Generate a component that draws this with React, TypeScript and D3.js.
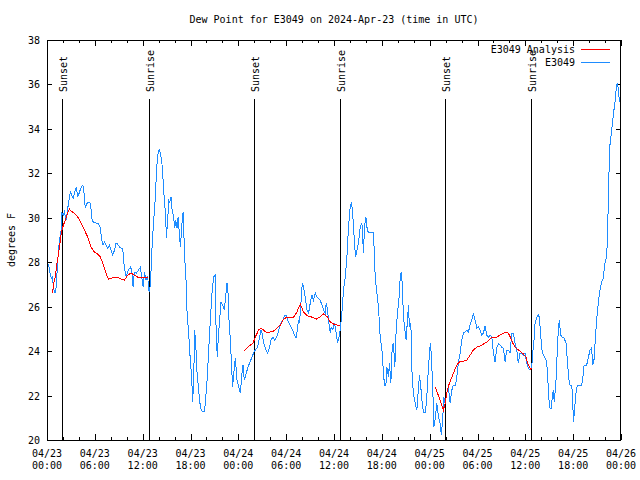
import React from "react";
import * as d3 from "d3";

// time is hours since 2024-04-23 00:00 UTC
const xTickLabels: [string, string][] = [
  ["04/23", "00:00"], ["04/23", "06:00"], ["04/23", "12:00"], ["04/23", "18:00"],
  ["04/24", "00:00"], ["04/24", "06:00"], ["04/24", "12:00"], ["04/24", "18:00"],
  ["04/25", "00:00"], ["04/25", "06:00"], ["04/25", "12:00"], ["04/25", "18:00"],
  ["04/26", "00:00"],
];
const yTicks = [20, 22, 24, 26, 28, 30, 32, 34, 36, 38];

const sunEvents: { label: string; hour: number }[] = [
  { label: "Sunset", hour: 1.86 },
  { label: "Sunrise", hour: 12.76 },
  { label: "Sunset", hour: 25.96 },
  { label: "Sunrise", hour: 36.69 },
  { label: "Sunset", hour: 49.98 },
  { label: "Sunrise", hour: 60.75 },
];

const station: [number, number][] = [
  [0.19,27.91],[0.31,27.64],[0.53,27.28],[0.69,27.33],[0.81,26.83],[1.03,26.61],[1.15,26.88],[1.28,27.64],
  [1.44,28.54],[1.57,28.99],[1.78,29.44],[1.85,30.21],[2.07,30.12],[2.19,30.25],[2.41,29.89],[2.53,30.21],
  [2.69,30.66],[2.82,30.93],[2.94,31.15],[3.11,31.02],[3.28,30.88],[3.45,31.11],[3.66,31.38],[3.86,30.93],
  [4.07,31.15],[4.29,31.38],[4.49,31.47],[4.61,31.24],[4.79,30.48],[5.04,30.66],[5.24,30.70],[5.45,30.66],
  [5.66,29.89],[5.86,29.80],[6.17,29.76],[6.45,29.76],[6.70,29.53],[6.87,28.99],[7.04,28.77],[7.21,28.90],
  [7.42,28.77],[7.62,28.63],[7.83,28.77],[8.05,28.54],[8.25,28.32],[8.46,28.54],[8.67,28.86],[8.87,28.81],
  [9.09,28.68],[9.50,28.59],[9.71,27.73],[9.92,27.37],[10.21,27.64],[10.46,27.78],[10.63,27.64],[10.80,26.88],
  [10.96,27.55],[11.22,27.51],[11.47,27.64],[11.72,27.78],[11.88,27.33],[12.06,26.88],[12.22,27.55],[12.43,27.19],
  [12.63,27.33],[12.81,26.65],[12.97,26.97],[13.18,28.68],[13.38,29.89],[13.60,30.93],[13.72,32.01],[13.88,32.81],
  [14.06,33.08],[14.22,32.90],[14.39,32.59],[14.56,31.69],[14.72,30.79],[14.89,30.03],[14.97,29.08],[15.14,29.89],
  [15.26,30.79],[15.39,30.70],[15.56,30.93],[15.69,30.34],[15.89,30.03],[16.02,29.53],[16.14,29.89],[16.32,29.53],
  [16.44,30.03],[16.60,29.31],[16.73,28.68],[16.82,29.13],[16.94,29.80],[17.07,30.25],[17.14,29.58],[17.27,28.23],
  [17.44,27.19],[17.57,25.71],[17.77,24.81],[17.89,24.05],[18.07,23.15],[18.20,22.38],[18.27,21.71],[18.40,22.70],
  [18.52,24.95],[18.65,24.36],[18.82,23.01],[19.02,22.25],[19.24,21.48],[19.45,21.30],[19.74,21.30],[19.86,21.66],
  [20.08,22.70],[20.28,24.05],[20.49,25.40],[20.70,26.61],[20.90,27.33],[21.08,27.42],[21.15,25.98],[21.24,24.50],
  [21.37,23.73],[21.49,24.63],[21.65,25.40],[21.83,26.21],[22.03,26.07],[22.24,25.85],[22.41,26.43],[22.58,27.06],
  [22.71,26.61],[22.83,25.40],[23.00,24.50],[23.12,23.60],[23.28,22.38],[23.50,23.28],[23.62,23.69],[23.83,22.70],
  [24.04,22.38],[24.25,22.11],[24.46,23.01],[24.59,23.37],[24.75,22.70],[25.00,23.01],[25.21,23.28],[25.41,23.46],
  [25.71,23.73],[25.91,23.91],[26.13,24.05],[26.42,24.18],[26.67,24.63],[26.84,24.95],[26.97,24.81],[27.17,24.36],
  [27.38,24.14],[27.67,23.91],[27.92,24.18],[28.10,24.50],[28.35,24.63],[28.55,24.50],[28.76,24.59],[28.97,24.81],
  [29.17,25.08],[29.35,25.26],[29.60,25.40],[29.76,25.58],[29.97,25.62],[30.18,25.40],[30.35,25.26],[30.60,25.08],
  [30.80,24.95],[31.02,24.72],[31.23,24.59],[31.35,24.81],[31.55,25.40],[31.68,25.26],[31.85,26.16],[32.02,27.06],
  [32.18,26.88],[32.39,26.43],[32.61,25.85],[32.81,25.71],[33.02,26.16],[33.23,26.52],[33.43,26.29],[33.65,26.61],
  [33.86,26.43],[34.06,26.38],[34.27,26.29],[34.49,26.07],[34.69,25.85],[34.90,25.71],[35.03,26.16],[35.19,25.85],
  [35.36,25.26],[35.53,24.81],[35.65,25.08],[35.86,24.95],[36.07,25.26],[36.28,24.81],[36.44,24.36],[36.62,24.63],
  [36.78,24.95],[36.99,25.71],[37.19,26.74],[37.41,27.33],[37.62,28.23],[37.82,29.58],[38.03,30.48],[38.20,30.70],
  [38.37,30.03],[38.53,29.13],[38.70,28.23],[38.87,28.54],[39.07,28.86],[39.29,29.58],[39.50,29.76],[39.70,28.41],
  [39.82,29.58],[40.00,30.03],[40.13,29.58],[40.29,29.35],[40.95,29.35],[41.17,27.33],[41.38,26.61],[41.58,25.98],
  [41.79,24.63],[42.01,24.05],[42.21,23.01],[42.33,22.47],[42.51,22.47],[42.63,23.28],[42.83,22.83],[42.96,23.46],
  [43.13,22.56],[43.30,24.18],[43.46,24.36],[43.63,23.28],[43.80,24.95],[43.96,25.71],[44.14,26.29],[44.30,27.28],
  [44.42,27.55],[44.55,27.10],[44.71,25.53],[44.89,24.95],[45.05,24.50],[45.21,25.40],[45.34,26.07],[45.46,25.08],
  [45.64,25.26],[45.80,22.83],[45.96,22.11],[46.18,21.66],[46.39,21.35],[46.55,22.11],[46.72,22.92],[46.89,22.38],
  [47.06,21.66],[47.22,21.26],[47.47,21.26],[47.64,21.93],[47.81,23.01],[47.97,23.91],[48.10,24.36],[48.22,23.73],
  [48.40,22.25],[48.52,20.58],[48.68,20.90],[48.90,21.66],[49.10,21.03],[49.31,20.76],[49.47,20.22],[49.65,21.03],
  [49.77,21.93],[49.94,21.66],[50.15,22.11],[50.35,22.38],[50.56,21.66],[50.78,22.25],[50.98,22.47],[51.23,22.47],
  [51.40,22.83],[51.60,23.46],[51.82,23.91],[52.03,24.50],[52.23,24.81],[52.44,24.86],[52.66,24.95],[52.86,24.86],
  [53.07,25.17],[53.28,25.40],[53.48,25.71],[53.70,25.40],[53.91,25.04],[54.11,25.08],[54.32,24.95],[54.54,24.72],
  [54.74,24.81],[54.95,25.13],[55.16,24.72],[55.36,24.63],[55.58,24.72],[55.79,24.63],[55.99,23.96],[56.20,23.51],
  [56.42,24.18],[56.62,24.32],[56.83,24.27],[57.04,24.18],[57.24,24.14],[57.46,23.51],[57.67,24.05],[57.87,24.05],
  [58.08,23.91],[58.30,24.81],[58.50,24.81],[58.71,24.36],[58.92,24.05],[59.12,23.46],[59.34,23.91],[59.55,23.91],
  [59.75,23.82],[59.96,23.91],[60.18,23.46],[60.38,23.24],[60.59,23.15],[60.80,23.28],[60.93,23.91],[61.09,24.50],
  [61.22,25.26],[61.43,25.53],[61.63,25.62],[61.75,25.53],[61.93,24.72],[62.09,24.05],[62.26,23.82],[62.47,23.69],
  [62.68,23.51],[62.81,22.83],[62.93,21.93],[63.10,21.44],[63.26,21.44],[63.38,21.93],[63.51,22.25],[63.63,21.71],
  [63.76,22.25],[63.88,22.83],[64.01,24.05],[64.14,24.95],[64.26,25.40],[64.44,24.72],[64.60,24.63],[64.85,24.59],
  [65.10,24.36],[65.27,23.60],[65.44,22.79],[65.60,22.47],[65.81,22.47],[65.94,21.93],[66.02,20.81],[66.10,21.03],
  [66.27,21.80],[66.44,22.38],[66.64,22.47],[67.07,22.47],[67.19,22.70],[67.36,23.33],[67.69,23.37],[67.89,23.69],
  [68.11,24.05],[68.32,24.14],[68.45,23.37],[68.61,23.60],[68.77,24.50],[68.95,25.40],[69.15,26.16],[69.36,26.74],
  [69.57,27.10],[69.77,27.28],[69.99,27.96],[70.20,28.23],[70.33,29.44],[70.45,31.56],[70.61,33.26],[70.83,33.94],
  [71.03,34.61],[71.24,35.20],[71.45,35.96],[71.58,36.05],[71.70,35.60],[71.83,35.20],
];

const analysisDay1: [number, number][] = [
  [0.69,26.61],[0.85,27.06],[1.03,27.33],[1.19,27.78],[1.35,28.18],[1.57,28.68],[1.78,29.31],[1.98,29.58],
  [2.19,29.80],[2.41,30.03],[2.61,30.25],[2.82,30.39],[3.03,30.30],[3.45,30.21],[3.86,30.03],[4.29,29.76],
  [4.70,29.44],[5.11,29.13],[5.54,28.68],[5.95,28.45],[6.37,28.36],[6.70,28.23],[6.99,27.96],[7.29,27.64],
  [7.54,27.37],[7.71,27.24],[8.05,27.28],[8.46,27.33],[8.87,27.33],[9.30,27.24],[9.71,27.19],[10.13,27.42],
  [10.55,27.51],[10.96,27.42],[11.38,27.33],[11.80,27.33],[12.22,27.33],[12.72,27.33],
];
const analysisDay2: [number, number][] = [
  [24.75,24.00],[25.09,24.14],[25.50,24.27],[25.84,24.36],[26.13,24.63],[26.54,24.95],[26.84,25.04],[27.17,24.95],
  [27.59,24.81],[28.01,24.86],[28.42,24.90],[28.85,25.04],[29.26,25.17],[29.67,25.44],[30.10,25.53],[30.51,25.49],
  [30.93,25.53],[31.35,25.76],[31.77,26.12],[32.18,25.76],[32.68,25.58],[33.23,25.53],[33.77,25.44],[34.19,25.53],
  [34.69,25.67],[35.19,25.53],[35.53,25.31],[35.94,25.22],[36.37,25.17],[36.69,25.13],
];
const analysisDay3: [number, number][] = [
  [48.72,22.38],[48.97,22.11],[49.22,21.89],[49.47,21.62],[49.72,21.35],[49.94,21.66],[50.15,22.11],[50.40,22.47],
  [50.65,22.70],[50.98,23.01],[51.40,23.37],[51.73,23.51],[52.23,23.55],[52.66,23.60],[53.07,23.82],[53.48,24.05],
  [53.91,24.18],[54.32,24.23],[54.74,24.32],[55.16,24.41],[55.66,24.59],[55.99,24.63],[56.42,24.63],[56.83,24.72],
  [57.24,24.81],[57.67,24.86],[57.87,24.81],[58.17,24.59],[58.42,24.36],[58.71,24.18],[59.00,24.09],[59.34,24.00],
  [59.75,23.87],[60.09,23.73],[60.25,23.51],[60.50,23.28],[60.68,23.19],[60.80,23.24],
];

const W = 640, H = 480;
const L = 47, R = 621, T = 40, B = 440;
const FONT = "'DejaVu Sans Mono', monospace";
const BLUE = "#1e8cff";
const RED = "#ff0000";

export default function App() {
  const x = d3.scaleLinear().domain([0, 72]).range([L, R]);
  const y = d3.scaleLinear().domain([20, 38]).range([B, T]);
  const line = d3.line<[number, number]>().x((d) => x(d[0])).y((d) => y(d[1]));
  const minorHours = d3.range(0, 73, 2);
  const majorHours = d3.range(0, 73, 6);

  return (
    <svg width={W} height={H} style={{ position: "absolute", left: 0, top: 0, background: "#fff" }}
      fontFamily={FONT} fontSize={10}>
      <rect x={0} y={0} width={W} height={H} fill="#fff" />
      <text x={(L + R) / 2} y={23} textAnchor="middle">Dew Point for E3049 on 2024-Apr-23 (time in UTC)</text>
      <text transform={`translate(15,${(T + B) / 2}) rotate(-90)`} textAnchor="middle">degrees F</text>

      {/* y ticks */}
      {yTicks.map((v) => (
        <g key={"y" + v} shapeRendering="crispEdges">
          <line x1={L} x2={L + 5} y1={Math.round(y(v)) + 0.5} y2={Math.round(y(v)) + 0.5} stroke="#000" />
          <line x1={R - 5} x2={R} y1={Math.round(y(v)) + 0.5} y2={Math.round(y(v)) + 0.5} stroke="#000" />
          <text x={L - 7} y={y(v) + 4} textAnchor="end" shapeRendering="auto">{v}</text>
        </g>
      ))}

      {/* x ticks */}
      {minorHours.map((h) => {
        const len = h % 6 === 0 ? 6 : 3;
        const px = Math.round(x(h)) + 0.5;
        return (
          <g key={"x" + h} shapeRendering="crispEdges">
            <line x1={px} x2={px} y1={B} y2={B - len} stroke="#000" />
            <line x1={px} x2={px} y1={T} y2={T + len} stroke="#000" />
          </g>
        );
      })}
      {majorHours.map((h, i) => (
        <g key={"xl" + h}>
          <text x={x(h)} y={457} textAnchor="middle">{xTickLabels[i][0]}</text>
          <text x={x(h)} y={469} textAnchor="middle">{xTickLabels[i][1]}</text>
        </g>
      ))}

      {/* sun events */}
      {sunEvents.map((e, i) => {
        const px = Math.round(x(e.hour)) + 0.5;
        return (
          <g key={"s" + i}>
            <line x1={px} x2={px} y1={99} y2={B} stroke="#000" shapeRendering="crispEdges" />
            <text transform={`translate(${px + 4},92) rotate(-90)`} textAnchor="start">{e.label}</text>
          </g>
        );
      })}

      {/* data */}
      <path d={line(station) || ""} fill="none" stroke={BLUE} strokeWidth={1} shapeRendering="crispEdges" />
      {[analysisDay1, analysisDay2, analysisDay3].map((s, i) => (
        <path key={"a" + i} d={line(s) || ""} fill="none" stroke={RED} strokeWidth={1} shapeRendering="crispEdges" />
      ))}

      {/* frame */}
      <rect x={L + 0.5} y={T + 0.5} width={R - L - 1} height={B - T} fill="none" stroke="#000" shapeRendering="crispEdges" />

      {/* legend */}
      <text x={575} y={53} textAnchor="end">E3049 Analysis</text>
      <line x1={581} x2={610} y1={49.5} y2={49.5} stroke={RED} shapeRendering="crispEdges" />
      <text x={575} y={66} textAnchor="end">E3049</text>
      <line x1={581} x2={610} y1={62.5} y2={62.5} stroke={BLUE} shapeRendering="crispEdges" />
    </svg>
  );
}
